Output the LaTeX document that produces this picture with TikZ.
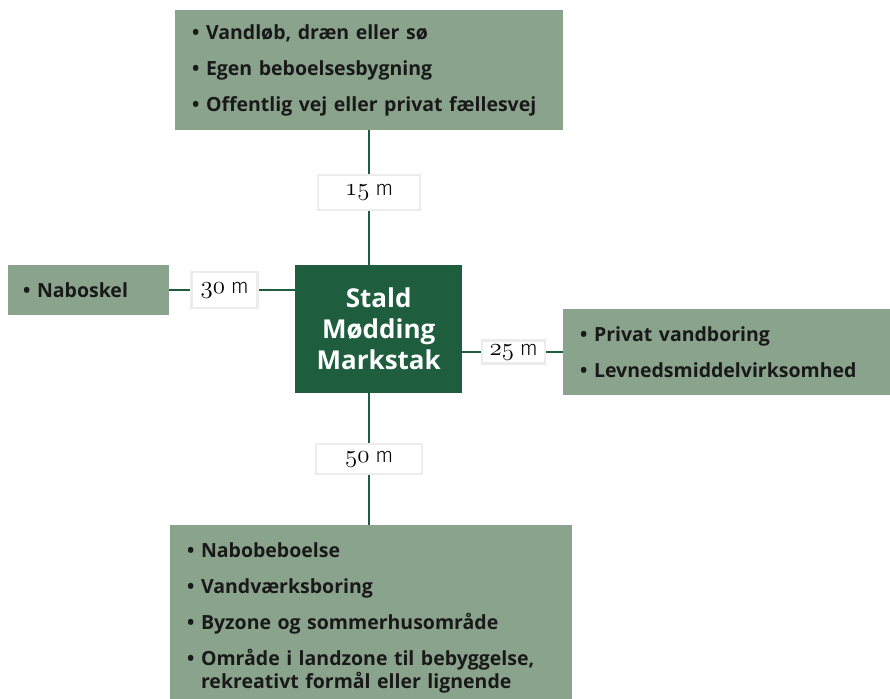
\documentclass[tikz,border=0pt]{standalone}
\usepackage{fontspec}
\setmainfont{Open Sans}
\newfontfamily\lblfont{Fira Sans Light}
\usetikzlibrary{positioning, calc}
\definecolor{sage}{HTML}{8AA38C}
\definecolor{stalgreen}{HTML}{1E5E3E}
\newcommand\itm[1]{\textbullet\ #1}
\newcommand\osn[1]{{\fontencoding{OML}\fontfamily{cmm}\fontseries{m}\fontshape{it}\fontsize{25}{25}\selectfont #1}}

\begin{document}
\begin{tikzpicture}[x=1pt,y=-1pt,
  box/.style={fill=sage, anchor=north west, align=left, inner xsep=17pt, inner ysep=0pt,
    text=black!90, font=\bfseries\fontsize{19.5}{36}\selectfont},
  dist/.style={fill=white, draw=gray!15, inner sep=0pt, text=black,
    font=\lblfont\fontsize{21}{21}\selectfont},
  link/.style={stalgreen, line width=2.5pt}]
\useasboundingbox (0,0) rectangle (890,698);
% boxes
\node[box, minimum width=388pt, minimum height=120pt, text width=354pt] (top) at (175,10)
  {\itm{Vandløb, dræn eller sø}\\ \itm{Egen beboelsesbygning}\\ \itm{Offentlig vej eller privat fællesvej}};
\node[box, minimum width=161pt, minimum height=50pt, text width=131pt, inner xsep=15pt] (nabo) at (8,265)
  {\itm{Naboskel}};
\node[box, minimum width=340pt, minimum height=86pt, text width=306pt] (right) at (563,309)
  {\itm{Privat vandboring}\\ \itm{Levnedsmiddelvirksomhed}};
\node[box, minimum width=402pt, minimum height=185pt, text width=368pt] (bottom) at (170,525)
  {\itm{Nabobeboelse}\\ \itm{Vandværksboring}\\ \itm{Byzone og sommerhusområde}\\
   \itm{Område i landzone til bebyggelse,}\\[-13pt] \hphantom{\textbullet\ }rekreativt formål eller lignende};
\node[fill=stalgreen, text=white, anchor=north west, minimum width=167pt, minimum height=128pt,
  align=center, font=\bfseries\fontsize{26}{31}\selectfont] (stald) at (295,265)
  {Stald\\ Mødding\\ Markstak};
% distances
\draw[link] (top.south) -- node[dist, pos=.46, minimum width=102pt, minimum height=35pt] {\osn{15} m}
  (top.south |- stald.north);
\draw[link] (nabo.east) -- node[dist, pos=.44, minimum width=66pt, minimum height=36pt] {\osn{30} m}
  (nabo.east -| stald.west);
\draw[link] (stald.east |- right.west) -- node[dist, pos=.51, minimum width=63pt, minimum height=23pt] {\osn{25} m}
  (right.west);
\draw[link] (top.south |- stald.south) -- node[dist, minimum width=106pt, minimum height=30pt] {\osn{50} m}
  (top.south |- bottom.north);
\end{tikzpicture}
\end{document}
